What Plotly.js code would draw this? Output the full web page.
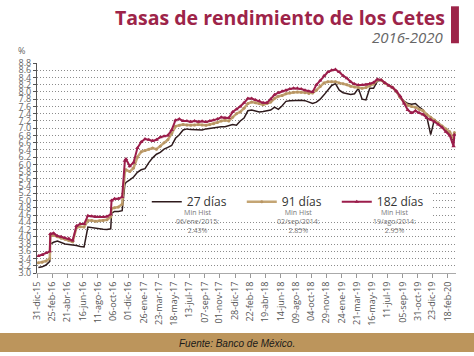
<!DOCTYPE html>
<html><head><meta charset="utf-8">
<script src="https://cdn.plot.ly/plotly-3.0.1.min.js"></script>
<style>html,body{margin:0;padding:0;background:#fff}#chart{width:474px;height:356px}</style>
</head><body><div id="chart"></div>
<script>
const dates = [
'2016-01-05','2016-01-19','2016-02-02','2016-02-16','2016-02-18','2016-03-01','2016-03-15','2016-03-29','2016-04-12','2016-04-26',
'2016-05-10','2016-05-24','2016-06-07','2016-06-21','2016-07-05','2016-07-19','2016-08-02','2016-08-16','2016-08-30','2016-09-13',
'2016-09-27','2016-09-30','2016-10-11','2016-10-25','2016-11-08','2016-11-18','2016-11-22','2016-12-06','2016-12-20',
'2017-01-03','2017-01-17','2017-01-31','2017-02-14','2017-02-28','2017-03-14','2017-03-28','2017-04-11','2017-04-25','2017-05-09',
'2017-05-23','2017-06-06','2017-06-20','2017-07-04','2017-07-18','2017-08-01','2017-08-15','2017-08-29','2017-09-12','2017-09-26',
'2017-10-10','2017-10-24','2017-11-07','2017-11-21','2017-12-05','2017-12-19',
'2018-01-02','2018-01-16','2018-01-30','2018-02-13','2018-02-27','2018-03-13','2018-03-27','2018-04-10','2018-04-24','2018-05-08',
'2018-05-22','2018-06-05','2018-06-19','2018-07-03','2018-07-17','2018-07-31','2018-08-14','2018-08-28','2018-09-11','2018-09-25',
'2018-10-09','2018-10-23','2018-11-06','2018-11-20','2018-12-04','2018-12-18',
'2019-01-01','2019-01-15','2019-01-29','2019-02-12','2019-02-26','2019-03-12','2019-03-26','2019-04-09','2019-04-23','2019-05-07',
'2019-05-21','2019-06-04','2019-06-18','2019-07-02','2019-07-16','2019-07-30','2019-08-13','2019-08-27','2019-09-10','2019-09-24',
'2019-10-08','2019-10-22','2019-11-05','2019-11-19','2019-12-03','2019-12-17','2019-12-31',
'2020-01-14','2020-01-28','2020-02-11','2020-02-25','2020-03-10','2020-03-13'
];
const cetes27 = [
3.15,3.17,3.22,3.32,3.80,3.85,3.88,3.84,3.80,3.79,3.78,3.76,3.73,3.72,4.27,4.25,4.23,4.22,4.21,4.20,4.22,4.65,4.70,4.70,4.72,5.45,5.50,5.57,5.65,
5.78,5.85,5.88,6.05,6.18,6.28,6.33,6.42,6.47,6.52,6.72,6.82,6.95,6.98,6.96,6.95,6.94,6.95,6.98,7.00,7.02,7.04,7.04,7.04,7.06,7.10,
7.08,7.20,7.28,7.48,7.50,7.48,7.45,7.46,7.48,7.50,7.58,7.52,7.62,7.74,7.76,7.77,7.77,7.77,7.76,7.72,7.68,7.72,7.80,7.92,8.05,8.18,
8.23,8.05,7.98,7.96,7.93,7.95,8.10,7.80,7.78,8.10,8.10,8.30,8.32,8.25,8.18,8.12,8.00,7.85,7.75,7.68,7.66,7.68,7.58,7.50,7.30,6.82,7.25,
7.12,7.04,6.95,6.85,6.65,6.82
];
const cetes91 = [
3.28,3.30,3.33,3.40,4.02,4.04,4.00,3.96,3.93,3.90,3.86,4.25,4.28,4.27,4.45,4.45,4.43,4.44,4.45,4.47,4.55,4.78,4.80,4.82,4.90,5.80,5.85,5.80,5.90,
6.20,6.35,6.38,6.42,6.45,6.42,6.50,6.60,6.68,6.85,7.05,7.08,7.10,7.09,7.08,7.09,7.10,7.09,7.08,7.10,7.12,7.16,7.20,7.22,7.20,7.30,
7.40,7.45,7.55,7.68,7.72,7.70,7.68,7.65,7.68,7.72,7.82,7.88,7.90,7.95,7.97,7.99,8.00,7.99,7.98,7.96,7.97,8.05,8.15,8.25,8.28,8.28,
8.28,8.25,8.23,8.20,8.16,8.14,8.12,8.10,8.12,8.18,8.22,8.33,8.33,8.24,8.18,8.12,8.02,7.85,7.72,7.63,7.60,7.58,7.52,7.48,7.38,7.30,7.22,
7.15,7.06,6.98,6.90,6.72,6.88
];
const cetes182 = [
3.47,3.50,3.55,3.60,4.08,4.10,4.02,4.00,3.97,3.95,3.90,4.30,4.35,4.35,4.58,4.57,4.55,4.55,4.55,4.56,4.62,5.00,5.05,5.05,5.10,6.10,6.15,5.95,6.05,
6.45,6.62,6.70,6.68,6.65,6.68,6.75,6.78,6.80,6.95,7.22,7.25,7.20,7.20,7.18,7.20,7.18,7.19,7.17,7.20,7.22,7.25,7.30,7.28,7.28,7.45,
7.52,7.60,7.70,7.82,7.82,7.78,7.75,7.70,7.70,7.80,7.92,7.98,8.02,8.05,8.08,8.10,8.10,8.08,8.05,8.02,8.00,8.20,8.32,8.45,8.55,8.60,
8.62,8.55,8.45,8.38,8.28,8.22,8.19,8.19,8.20,8.23,8.26,8.35,8.33,8.25,8.18,8.12,8.02,7.88,7.68,7.50,7.42,7.48,7.42,7.38,7.28,7.24,7.18,
7.10,7.02,6.90,6.80,6.50,6.82
];
const tickDates = ['2015-12-31','2016-02-25','2016-04-21','2016-06-16','2016-08-11','2016-10-06','2016-12-01','2017-01-26','2017-03-23','2017-05-18',
'2017-07-13','2017-09-07','2017-11-01','2017-12-28','2018-02-22','2018-04-19','2018-06-14','2018-08-09','2018-10-04','2018-11-29',
'2019-01-24','2019-03-21','2019-05-16','2019-07-11','2019-09-05','2019-10-31','2019-12-23','2020-02-18'];
const tickLabels = ['31-dic-15','25-feb-16','21-abr-16','16-jun-16','11-ago-16','06-oct-16','01-dic-16','26-ene-17','23-mar-17','18-may-17',
'13-jul-17','07-sep-17','01-nov-17','28-dic-17','22-feb-18','19-abr-18','14-jun-18','09-ago-18','04-oct-18','29-nov-18',
'24-ene-19','21-mar-19','16-may-19','11-jul-19','05-sep-19','31-oct-19','23-dic-19','18-feb-20'];
const seriesNames = ['27 días','91 días','182 días'];
const minHistText = ['Min Hist<br>06/ene/2015:<br>2.43%','Min Hist<br>02/sep/2014:<br>2.85%','Min Hist<br>19/ago/2014:<br>2.95%'];
const yTicks = [3.0,3.2,3.4,3.6,3.8,4.0,4.2,4.4,4.6,4.8,5.0,5.2,5.4,5.6,5.8,6.0,6.2,6.4,6.6,6.8,7.0,7.2,7.4,7.6,7.8,8.0,8.2,8.4,8.6,8.8];

const FONT = 'Open Sans, sans-serif';
const traces = [
  {x: dates, y: cetes27, name: seriesNames[0], type: 'scatter', mode: 'lines', line: {color: '#2e1a1c', width: 1.5}},
  {x: dates, y: cetes91, name: seriesNames[1], type: 'scatter', mode: 'lines+markers', line: {color: '#c4a574', width: 2.5},
   marker: {symbol: 'circle', size: 3, color: '#b89563'}},
  {x: dates, y: cetes182, name: seriesNames[2], type: 'scatter', mode: 'lines+markers', line: {color: '#9b1d4b', width: 2},
   marker: {symbol: 'triangle-up', size: 4, color: '#9b1d4b'}}
];
const annX = [0.382, 0.623, 0.854];
const annotations = minHistText.map((t, i) => ({
  xref: 'paper', yref: 'paper', x: annX[i], y: 0.243, xanchor: 'center', yanchor: 'middle',
  text: t, showarrow: false, font: {family: FONT, size: 7, color: '#777'}
}));
annotations.push({xref: 'paper', yref: 'paper', x: 0.974, y: 1.122, xanchor: 'right', yanchor: 'middle',
  text: '2016-2020', showarrow: false, font: {family: FONT, size: 15, color: '#666', style: 'italic'}});
annotations.push({xref: 'paper', yref: 'paper', x: -0.037, y: 1.06, xanchor: 'center', yanchor: 'middle',
  text: '%', showarrow: false, font: {family: FONT, size: 9, color: '#666'}});
annotations.push({xref: 'paper', yref: 'paper', x: 0.477, y: -0.334, xanchor: 'center', yanchor: 'middle',
  text: 'Fuente: Banco de México.', showarrow: false, font: {family: 'Liberation Sans, Arial, sans-serif', size: 10, color: '#1a1a1a', style: 'italic'}});

const layout = {
  width: 474, height: 356,
  margin: {l: 37, r: 18, t: 63, b: 83},
  paper_bgcolor: '#ffffff', plot_bgcolor: '#ffffff',
  title: {text: 'Tasas de rendimiento de los Cetes', xref: 'container', yref: 'container', x: 0.939, xanchor: 'right', y: 0.949, yanchor: 'middle',
    font: {family: FONT, size: 19.5, weight: 700, color: '#9d2449'}},
  xaxis: {type: 'date', range: ['2015-12-31', '2020-03-19'], tickmode: 'array', tickvals: tickDates, ticktext: tickLabels,
    tickangle: -90, tickfont: {family: FONT, size: 9, color: '#555'}, showgrid: false, zeroline: false,
    showline: true, linecolor: '#aaa', linewidth: 1, ticks: 'outside', ticklen: 4, tickcolor: '#999'},
  yaxis: {range: [3.0, 8.8], tickmode: 'array', tickvals: yTicks, ticktext: yTicks.map(v => v.toFixed(1)),
    tickfont: {family: FONT, size: 9, color: '#666'}, showgrid: true, gridcolor: '#8c8c8c', griddash: '1px,2px', gridwidth: 1,
    zeroline: false, showline: true, linecolor: '#555', linewidth: 1, ticks: 'outside', ticklen: 3, tickcolor: '#555'},
  legend: {orientation: 'h', x: 0.262, xanchor: 'left', y: 0.339, yanchor: 'middle', bgcolor: '#ffffff',
    font: {family: FONT, size: 12, color: '#333'}, entrywidth: 50, itemwidth: 30},
  showlegend: true,
  annotations: annotations,
  shapes: [
    {type: 'rect', xref: 'paper', yref: 'paper', x0: 0.988, x1: 1.007, y0: 1.094, y1: 1.27, fillcolor: '#9d2449', line: {width: 0}},
    {type: 'rect', xref: 'paper', yref: 'paper', x0: -0.1, x1: 1.1, y0: -0.3757, y1: -0.2853, fillcolor: '#bc955c', line: {width: 0}, layer: 'below'}
  ]
};
Plotly.newPlot('chart', traces, layout, {displayModeBar: false, staticPlot: true});
</script>
</body></html>
